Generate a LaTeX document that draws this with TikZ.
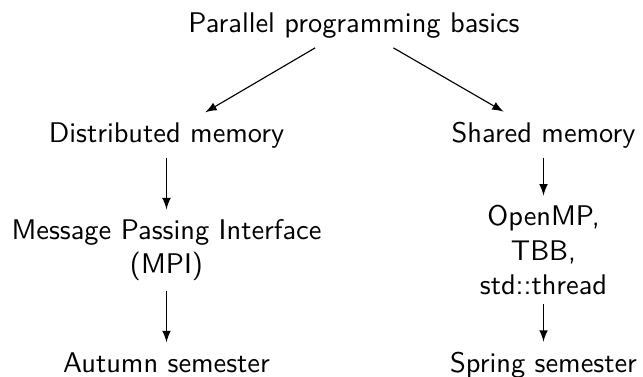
\documentclass[tikz,border=0pt]{standalone}
\usetikzlibrary{arrows}
\begin{document}
\begin{tikzpicture}[x=0.352pt,y=-0.352pt,
  every node/.style={font=\sffamily},
  lbl/.style={anchor=base},
  multi/.style={align=center,anchor=center},
  conn/.style={-latex,line width=0.4pt}]
\useasboundingbox (0,0) rectangle (643,376);
\node[lbl] (top) at (354,32) {Parallel programming basics};
\node[lbl] (dist) at (166.5,142) {Distributed memory};
\node[lbl] (shared) at (543.5,142) {Shared memory};
\node[multi] (mpi) at (166.5,250) {Message Passing Interface\\(MPI)};
\node[multi] (omp) at (543.5,250) {OpenMP,\\TBB,\\std::thread};
\node[lbl] (autumn) at (166.5,372) {Autumn semester};
\node[lbl] (spring) at (543.5,372) {Spring semester};
\draw[conn] (top) -- (dist);
\draw[conn] (top) -- (shared);
\draw[conn] (dist) -- (mpi);
\draw[conn] (mpi) -- (autumn);
\draw[conn] (shared) -- (omp);
\draw[conn] (omp) -- (spring);
\end{tikzpicture}
\end{document}
